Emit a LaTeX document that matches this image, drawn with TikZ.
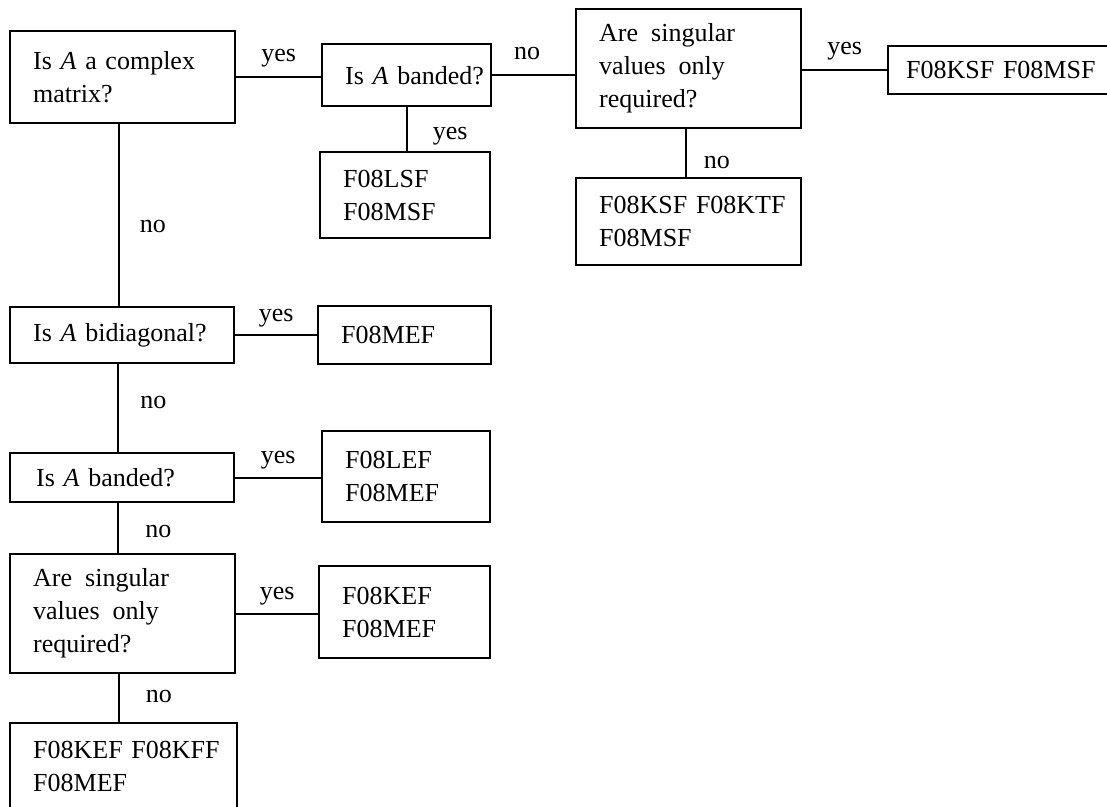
\documentclass[tikz,border=0pt]{standalone}
\usepackage{fontspec}
\setmainfont{Liberation Serif}[WordSpace=0.8]
\usepackage{tikz}
\usetikzlibrary{positioning}

\tikzstyle{box} = [rectangle, draw, line width=1.2pt, anchor=north west, inner xsep=11.5pt, inner ysep=0pt, align=left, font=\fontsize{13}{16.5}\selectfont]
\tikzstyle{line} = [line width=1.2pt]
\tikzstyle{lbl} = [inner sep=0pt, font=\fontsize{13}{16}\selectfont]

\begin{document}
\begin{tikzpicture}[x=0.5pt, y=-0.5pt]
    \useasboundingbox (0,0) rectangle (1107,807);
    \clip (0,0) rectangle (1107,807);

    % top row
    \node [box, minimum width=112.5pt, text width=89.5pt, minimum height=46pt] at (9,30) (cplx) {Is \textit{A} a complex\\matrix?};
    \node [box, minimum width=84.5pt, text width=61.5pt, minimum height=31pt] at (321,43) (bnd1) {Is~\textit{A}~banded?};
    \node [box, minimum width=85pt, text width=62pt, minimum height=43pt] at (319,151) (lsf) {F08LSF\\F08MSF};
    \node [box, minimum width=112.5pt, text width=89.5pt, minimum height=59.5pt] at (575,8) (sv1) {Are\enspace singular\\values\enspace only\\required?};
    \node [box, inner xsep=9pt, minimum width=111pt, text width=93pt, minimum height=24pt] at (887,45) (ksf) {F08KSF~F08MSF};
    \node [box, minimum width=112.5pt, text width=89.5pt, minimum height=43.5pt] at (575,177) (ktf) {F08KSF~F08KTF\\F08MSF};

    % left column
    \node [box, minimum width=112pt, text width=89pt, minimum height=28pt] at (9,306) (bidi) {Is~\textit{A}~bidiagonal?};
    \node [box, minimum width=86.5pt, text width=63.5pt, minimum height=29pt] at (317,305) (mef) {F08MEF};
    \node [box, inner xsep=13pt, minimum width=112pt, text width=86pt, minimum height=24.5pt] at (9,452) (bnd2) {Is~\textit{A}~banded?};
    \node [box, minimum width=84pt, text width=61pt, minimum height=45.5pt] at (321,430) (lef) {F08LEF\\F08MEF};
    \node [box, minimum width=112.5pt, text width=89.5pt, minimum height=59.5pt] at (9,553) (sv2) {Are\enspace singular\\values\enspace only\\required?};
    \node [box, minimum width=85.5pt, text width=62.5pt, minimum height=46pt] at (318,565) (kef) {F08KEF\\F08MEF};
    \node [box, minimum width=113.5pt, text width=90.5pt, minimum height=43pt] at (9,722) (kff) {F08KEF~F08KFF\\F08MEF};

    \draw [line] (cplx.east) -- node[lbl, anchor=base, yshift=8pt] {yes} (cplx.east -| bnd1.west);
    \draw [line] (bnd1.east) -- node[lbl, anchor=base, yshift=8pt, pos=0.42] {no} (bnd1.east -| sv1.west);
    \draw [line] (sv1.east |- ksf.west) -- node[lbl, anchor=base, yshift=8pt] {yes} (ksf.west);
    \draw [line] (bnd1.south) -- node[lbl, anchor=west, xshift=12.5pt, pos=0.65] {yes} (bnd1.south |- lsf.north);
    \draw [line] ([xshift=-1.5pt]sv1.south) -- node[lbl, anchor=west, xshift=8.5pt, pos=0.7] {no} ([xshift=-1.5pt]sv1.south |- ktf.north);
    \draw [line] ([xshift=-2pt]cplx.south) -- node[lbl, anchor=west, xshift=10pt, pos=0.56] {no} ([xshift=-2pt]cplx.south |- bidi.north);

    \draw [line] (bidi.east) -- node[lbl, anchor=base, yshift=7pt] {yes} (bidi.east -| mef.west);
    \draw [line] ([xshift=-2pt]bidi.south) -- node[lbl, anchor=west, xshift=10.5pt, pos=0.44] {no} ([xshift=-2pt]bidi.south |- bnd2.north);
    \draw [line] (bnd2.east) -- node[lbl, anchor=base, yshift=7pt] {yes} (bnd2.east -| lef.west);
    \draw [line] ([xshift=-2pt]bnd2.south) -- node[lbl, anchor=west, xshift=13pt, pos=0.56] {no} ([xshift=-2pt]bnd2.south |- sv2.north);
    \draw [line] (sv2.east) -- node[lbl, anchor=base, yshift=7pt] {yes} (sv2.east -| kef.west);
    \draw [line] ([xshift=-2pt]sv2.south) -- node[lbl, anchor=west, xshift=13pt, pos=0.47] {no} ([xshift=-2pt]sv2.south |- kff.north);
\end{tikzpicture}
\end{document}
